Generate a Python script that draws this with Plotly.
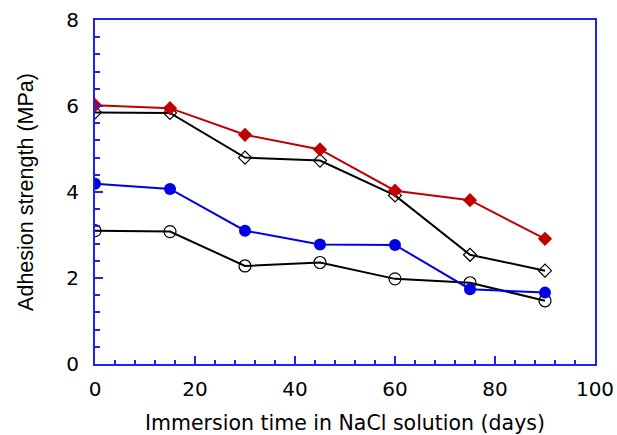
import plotly.graph_objects as go

days = [0, 15, 30, 45, 60, 75, 90]
red_diamond = [6.02, 5.95, 5.33, 4.99, 4.03, 3.81, 2.91]
open_diamond = [5.85, 5.84, 4.80, 4.73, 3.92, 2.54, 2.17]
blue_circle = [4.19, 4.07, 3.10, 2.78, 2.77, 1.74, 1.66]
open_circle = [3.10, 3.08, 2.28, 2.36, 1.98, 1.89, 1.47]

x_ticks = [0, 20, 40, 60, 80, 100]
y_ticks = [0, 2, 4, 6, 8]

AX = "#2020F0"
HFONT = "DejaVu Sans, Liberation Sans, sans-serif"
VFONT = "Liberation Sans, Arial, sans-serif"

fig = go.Figure()
fig.add_trace(go.Scatter(x=days, y=open_circle, mode="lines+markers",
                         line=dict(color="black", width=2),
                         marker=dict(symbol="circle-open", size=12, color="black", line=dict(width=1.2))))
fig.add_trace(go.Scatter(x=days, y=blue_circle, mode="lines+markers",
                         line=dict(color="#0000E6", width=2),
                         marker=dict(symbol="circle", size=12, color="#0000E6")))
fig.add_trace(go.Scatter(x=days, y=open_diamond, mode="lines+markers",
                         line=dict(color="black", width=2),
                         marker=dict(symbol="diamond-open", size=10, color="black", line=dict(width=1.2))))
fig.add_trace(go.Scatter(x=days, y=red_diamond, mode="lines+markers",
                         line=dict(color="#C00000", width=2),
                         marker=dict(symbol="diamond", size=11, color="#C00000")))

fig.update_layout(
    width=617, height=435,
    margin=dict(l=95, r=22, t=20, b=71),
    paper_bgcolor="white", plot_bgcolor="white",
    showlegend=False,
    font=dict(family=HFONT, size=20, color="black"),
)
fig.update_xaxes(
    range=[0, 100], tickvals=x_ticks, ticktext=[str(v) for v in x_ticks],
    showgrid=False, zeroline=False, automargin=False,
    showline=True, linecolor=AX, linewidth=2, mirror=True,
    ticks="inside", ticklen=8, tickwidth=1.5, tickcolor=AX,
    minor=dict(dtick=4, ticks="inside", ticklen=4, tickwidth=1.5, tickcolor=AX),
    tickfont=dict(family=HFONT, size=20),
    ticklabelstandoff=6,
    title=dict(text="Immersion time in NaCl solution (days)", font=dict(family=HFONT, size=20.5), standoff=17),
)
fig.update_yaxes(
    range=[0, 8], tickvals=y_ticks, ticktext=[str(v) for v in y_ticks],
    showgrid=False, zeroline=False, automargin=False,
    showline=True, linecolor=AX, linewidth=2, mirror=True,
    ticks="inside", ticklen=8, tickwidth=1.5, tickcolor=AX,
    minor=dict(dtick=0.4, ticks="inside", ticklen=5, tickwidth=1.5, tickcolor=AX),
    tickfont=dict(family=HFONT, size=20),
    ticklabelstandoff=10,
    title=dict(text="Adhesion strength (MPa)", font=dict(family=VFONT, size=21.5), standoff=27),
)

fig.write_html("out.html")
